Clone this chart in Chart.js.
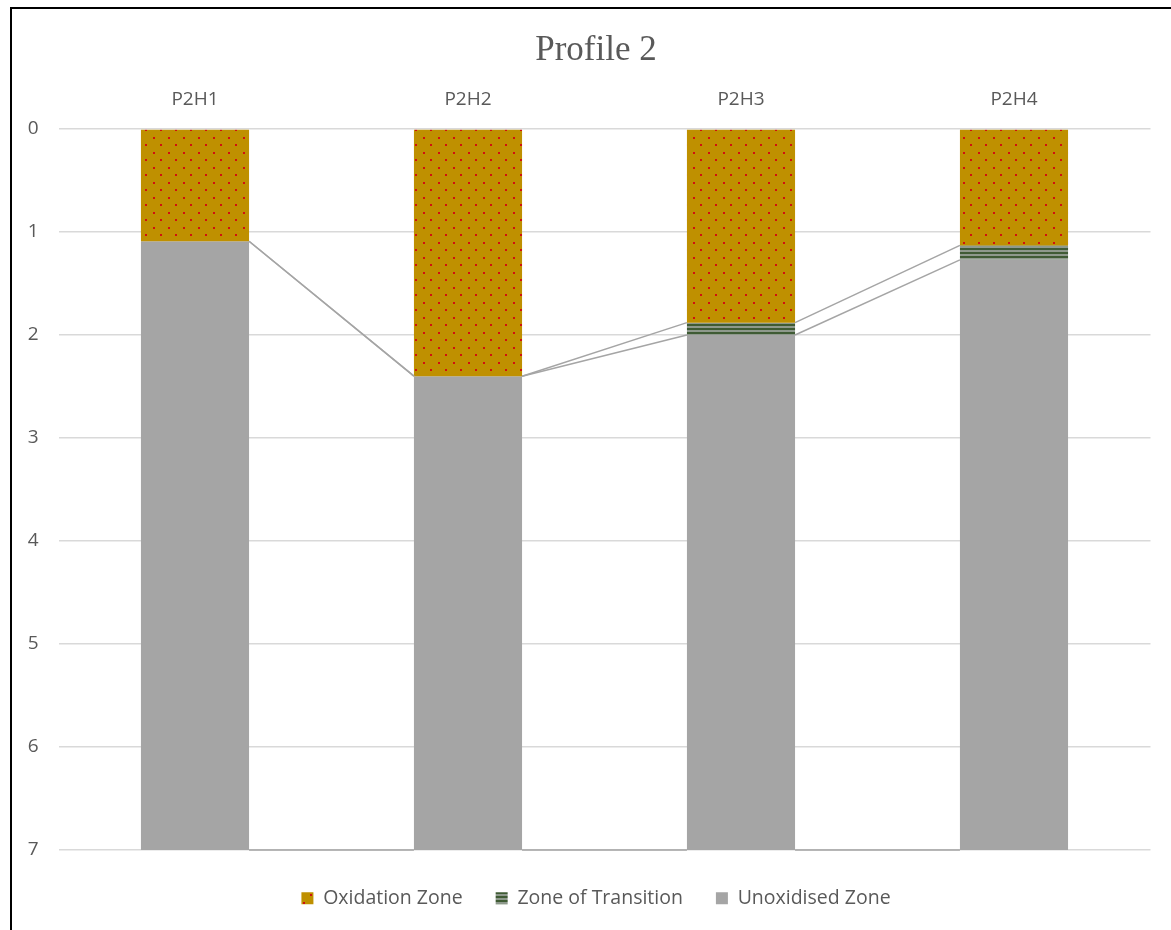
<!DOCTYPE html>
<html>
<head>
<meta charset="utf-8">
<title>Profile 2</title>
<script src="https://cdn.jsdelivr.net/npm/chart.js@4"></script>
<style>
  html, body { margin: 0; padding: 0; background: #fff; overflow: hidden; }
  #wrap { position: relative; width: 1171px; height: 930px; overflow: hidden; }
  #frame {
    position: absolute; left: 10px; top: 7px; right: -5px; bottom: -5px;
    border-left: 2px solid #000; border-top: 2px solid #000;
    pointer-events: none;
  }
</style>
</head>
<body>
<div id="wrap">
  <canvas id="profile-chart" width="1192" height="930"></canvas>
  <div id="frame"></div>
</div>
<script>
// depth (m) of each zone per borehole
const holes = ["P2H1", "P2H2", "P2H3", "P2H4"];
const oxidation = [1.09, 2.4, 1.88, 1.13];
const transition = [0, 0, 0.12, 0.14];
const unoxidised = [5.91, 4.6, 5.0, 5.73];
const depthTicks = [0, 1, 2, 3, 4, 5, 6, 7];

const FONT = "'Open Sans', 'Noto Sans', sans-serif";
const TEXT = "#595959";

// gold fill with staggered red dots
const dotPattern = () => {
  const c = document.createElement("canvas");
  c.width = 15;
  c.height = 15;
  const g = c.getContext("2d");
  g.fillStyle = "#BF9000";
  g.fillRect(0, 0, 15, 15);
  g.fillStyle = "#D01010";
  g.fillRect(3, 2, 2, 2);
  g.fillRect(10, 9, 2, 2);
  return g.createPattern(c, "repeat");
};

// dark green horizontal stripes
const stripePattern = () => {
  const c = document.createElement("canvas");
  c.width = 4;
  c.height = 4;
  const g = c.getContext("2d");
  g.fillStyle = "#8E998C";
  g.fillRect(0, 0, 4, 4);
  g.fillStyle = "#3F5B34";
  g.fillRect(0, 0, 4, 2);
  return g.createPattern(c, "repeat");
};

// lines joining the bottom of each zone from one bar to the next
const seriesLines = {
  id: "seriesLines",
  afterDatasetsDraw(chart) {
    const ctx = chart.ctx;
    ctx.save();
    ctx.strokeStyle = "#A5A5A5";
    ctx.lineWidth = 1.5;
    chart.data.datasets.forEach((ds, i) => {
      const bars = chart.getDatasetMeta(i).data;
      for (let j = 0; j < bars.length - 1; j++) {
        const a = bars[j], b = bars[j + 1];
        ctx.beginPath();
        ctx.moveTo(a.x + a.width / 2, a.y);
        ctx.lineTo(b.x - b.width / 2, b.y);
        ctx.stroke();
      }
    });
    ctx.restore();
  },
};

const ctx = document.getElementById("profile-chart").getContext("2d");

const chartProfile = new Chart(ctx, {
  type: "bar",
  data: {
    labels: holes,
    datasets: [
      { label: "Oxidation Zone", data: oxidation, backgroundColor: dotPattern() },
      { label: "Zone of Transition", data: transition, backgroundColor: stripePattern() },
      { label: "Unoxidised Zone", data: unoxidised, backgroundColor: "#A5A5A5" },
    ],
  },
  options: {
    responsive: false,
    animation: false,
    layout: { padding: { left: 0, right: 0, top: 0, bottom: 12 } },
    datasets: {
      bar: { categoryPercentage: 1, barPercentage: 0.396, borderWidth: 0 },
    },
    plugins: {
      title: {
        display: true,
        text: "Profile 2",
        color: TEXT,
        font: { family: "'Liberation Serif', 'Times New Roman', serif", size: 35, weight: "normal", lineHeight: 1.2 },
        padding: { top: 30, bottom: 7 },
      },
      legend: {
        position: "bottom",
        title: { display: true, text: "", font: { size: 1, lineHeight: 1 }, padding: { top: 4.5, bottom: 0 } },
        labels: {
          color: TEXT,
          font: { family: FONT, size: 19.5 },
          boxWidth: 12,
          boxHeight: 12,
          padding: 33,
        },
      },
      tooltip: { enabled: false },
    },
    scales: {
      x: {
        position: "top",
        stacked: true,
        grid: { display: false, drawTicks: false },
        border: { display: false },
        ticks: { color: TEXT, font: { family: FONT, size: 19 }, padding: 17.6 },
        afterFit: (scale) => { scale.height = 50; },
      },
      y: {
        stacked: true,
        reverse: true,
        min: 0,
        max: 7,
        afterBuildTicks: (scale) => { scale.ticks = depthTicks.map((v) => ({ value: v })); },
        grid: { color: "#D9D9D9", lineWidth: 1.5, drawTicks: false },
        border: { display: false },
        ticks: { color: TEXT, font: { family: FONT, size: 19 }, padding: 20 },
        afterFit: (scale) => { scale.width = 58.5; },
      },
      // empty right-hand margin inside the chart frame
      yRight: {
        type: "linear",
        position: "right",
        display: true,
        grid: { display: false, drawTicks: false },
        border: { display: false },
        ticks: { display: false },
        afterFit: (scale) => { scale.width = 41.5; },
      },
    },
  },
  plugins: [seriesLines],
});
</script>
</body>
</html>
